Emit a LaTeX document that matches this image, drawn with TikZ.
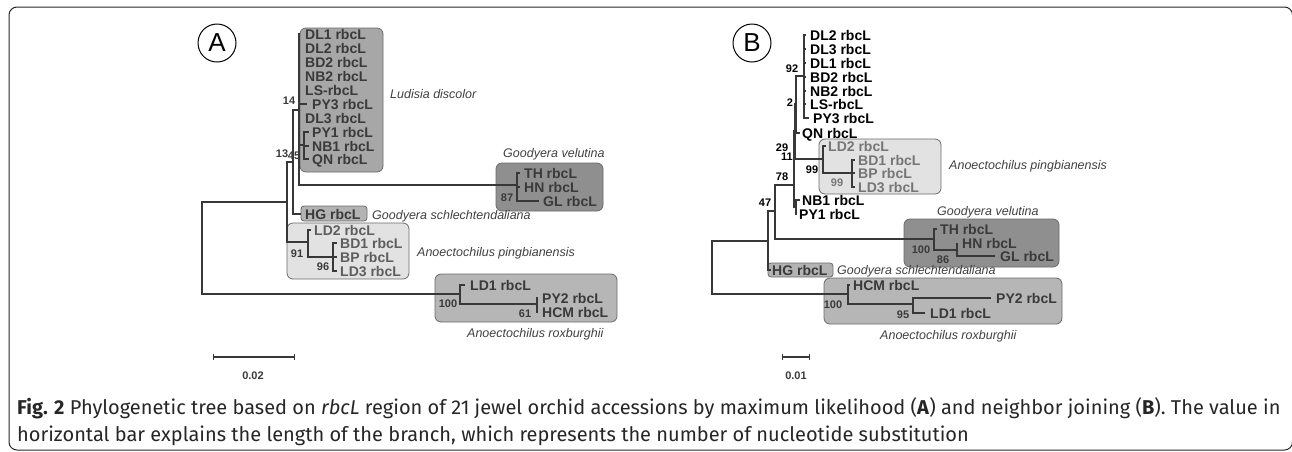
\documentclass[tikz,border=0pt]{standalone}
\usepackage{fontspec}
\setmainfont{Liberation Sans}
\newfontfamily\capfont{Fira Sans}
\usetikzlibrary{positioning, arrows.meta}
\definecolor{treeline}{HTML}{383838}
\definecolor{boxline}{HTML}{6A6A6A}
\definecolor{cladeDark}{HTML}{8F8F8F}
\definecolor{cladeMid}{HTML}{A7A7A7}
\definecolor{cladeHG}{HTML}{B3B3B3}
\definecolor{cladeRox}{HTML}{B6B6B6}
\definecolor{cladeLight}{HTML}{E2E2E2}
\definecolor{taxgray}{HTML}{3A3A3A}
\definecolor{lightgray}{HTML}{767676}
\definecolor{spgray}{HTML}{404040}
\tikzset{
  branch/.style={line width=1.1pt, draw=treeline},
  taxon/.style={anchor=west, inner sep=0pt, text height=10pt, text depth=0pt,
    font=\fontsize{14}{15}\selectfont\bfseries, text=taxgray},
  boot/.style={inner sep=0pt, font=\fontsize{11}{12}\selectfont\bfseries, text=taxgray},
  species/.style={anchor=west, inner sep=0pt, text height=9pt, text depth=0pt,
    font=\fontsize{12.5}{13}\selectfont\itshape, text=spgray},
  clade/.style={draw=boxline, line width=0.8pt, rounded corners=6pt},
  panel/.style={circle, draw, line width=1pt, minimum size=38pt, inner sep=0pt,
    font=\fontsize{26}{26}\selectfont},
  scalebar/.style={line width=1.1pt, draw=treeline, {Bar[width=6pt]}-{Bar[width=6pt]}},
}
\begin{document}
\begin{tikzpicture}[x=1pt, y=-1pt]
\useasboundingbox (0,0) rectangle (1292,451);
\draw[line width=1pt, draw=black!85, rounded corners=8pt] (9,7) rectangle (1292.5,450);

% panel A
\node[panel] at (217,43) (pa) {A};

\draw[clade, fill=cladeMid]   (300,28)  rectangle (383,172);
\draw[clade, fill=cladeDark]  (496,163) rectangle (603,211);
\draw[clade, fill=cladeHG, rounded corners=3pt] (301,206) rectangle (367,221);
\draw[clade, fill=cladeLight] (287,223) rectangle (409,279);
\draw[clade, fill=cladeRox]   (435,274) rectangle (617,322);

\node[taxon] at (305,34)  (dl1a) {DL1 rbcL};
\node[taxon] at (305,48)  (dl2a) {DL2 rbcL};
\node[taxon] at (305,62)  (bd2a) {BD2 rbcL};
\node[taxon] at (305,76)  (nb2a) {NB2 rbcL};
\node[taxon] at (305,90)  (lsa)  {LS-rbcL};
\node[taxon] at (312,104) (py3a) {PY3 rbcL};
\node[taxon] at (305,118) (dl3a) {DL3 rbcL};
\node[taxon] at (312,132) (py1a) {PY1 rbcL};
\node[taxon] at (312,146) (nb1a) {NB1 rbcL};
\node[taxon] at (312,159) (qna)  {QN rbcL};
\node[taxon] at (524,173) (tha)  {TH rbcL};
\node[taxon] at (524,187) (hna)  {HN rbcL};
\node[taxon] at (543,201) (gla)  {GL rbcL};
\node[taxon] at (305,214) (hga)  {HG rbcL};
\node[taxon, text=lightgray!80!black] at (314,230) (ld2a) {LD2 rbcL};
\node[taxon, text=lightgray!80!black] at (340,243) (bd1a) {BD1 rbcL};
\node[taxon, text=lightgray!80!black] at (340,257) (bpa)  {BP rbcL};
\node[taxon, text=lightgray!80!black] at (340,271) (ld3a) {LD3 rbcL};
\node[taxon] at (470,285) (ld1a) {LD1 rbcL};
\node[taxon] at (542,298) (py2a) {PY2 rbcL};
\node[taxon] at (542,312) (hcma) {HCM rbcL};

\coordinate (ra)  at (202,248);
\coordinate (a1)  at (287,202);
\coordinate (a2)  at (293,162);
\coordinate (a3)  at (299,110);
\coordinate (a4)  at (304,145);
\coordinate (ap1) at (308,242);
\coordinate (ap2) at (333,257);
\coordinate (av)  at (517,185);
\coordinate (ar1) at (460,294);
\coordinate (ar2) at (537,304);

\draw[branch] (ra) |- (a1);
\draw[branch] (ra) |- (ar1);
\draw[branch] (a1) |- (a2);
\draw[branch] (a1) |- (ap1);
\draw[branch] (a2) |- (a3);
\draw[branch] (a2) |- ([xshift=-4pt]hga.west);
\foreach \t in {dl1a,dl2a,bd2a,nb2a,lsa,py3a,dl3a}
  \draw[branch] (a3) |- ([xshift=-5pt]\t.west);
\draw[branch] (a3) |- (a4);
\draw[branch] (a3) |- (av);
\foreach \t in {py1a,nb1a,qna}
  \draw[branch] (a4) |- ([xshift=-3pt]\t.west);
\foreach \t in {tha,hna,gla}
  \draw[branch] (av) |- ([xshift=-4pt]\t.west);
\draw[branch] (ap1) |- ([xshift=-3pt]ld2a.west);
\draw[branch] (ap1) |- (ap2);
\foreach \t in {bd1a,bpa,ld3a}
  \draw[branch] (ap2) |- ([xshift=-3pt]\t.west);
\draw[branch] (ar1) |- ([xshift=-5pt]ld1a.west);
\draw[branch] (ar1) |- (ar2);
\foreach \t in {py2a,hcma}
  \draw[branch] (ar2) |- ([xshift=-4pt]\t.west);

\node[boot] at (289,101) (b14a) {14};
\node[boot] at (282,154) (b13a) {13};
\node[boot] at (294,156) (b45a) {45};
\node[boot] at (507,198) (b87a) {87};
\node[boot] at (297,254) (b91a) {91};
\node[boot] at (323,267) (b96a) {96};
\node[boot] at (448,304) (b100a) {100};
\node[boot] at (525,314) (b61a) {61};

\node[species] at (390,94)  (luda) {Ludisia discolor};
\node[species] at (503,153) (gvea) {Goodyera velutina};
\node[species] at (372,215) (gsca) {Goodyera schlechtendaliana};
\node[species] at (417,252) (apia) {Anoectochilus pingbianensis};
\node[species] at (467,333) (aroa) {Anoectochilus roxburghii};

\coordinate (sa1) at (213,357);
\coordinate (sa2) at (295,357);
\draw[scalebar] (sa1) -- (sa2);
\node[boot] at (253,376) (sla) {0.02};

% panel B
\node[panel] at (752,43) (pb) {B};

\draw[clade, fill=cladeLight] (819,139) rectangle (941,194);
\draw[clade, fill=cladeDark]  (904,219) rectangle (1059,267);
\draw[clade, fill=cladeRox]   (824,278) rectangle (1062,324);
\draw[clade, fill=cladeHG, rounded corners=3pt] (768,263) rectangle (833,277);

\node[taxon, text=black] at (810,35)  (dl2b) {DL2 rbcL};
\node[taxon, text=black] at (810,49)  (dl3b) {DL3 rbcL};
\node[taxon, text=black] at (810,63)  (dl1b) {DL1 rbcL};
\node[taxon, text=black] at (810,77)  (bd2b) {BD2 rbcL};
\node[taxon, text=black] at (810,91)  (nb2b) {NB2 rbcL};
\node[taxon, text=black] at (810,104) (lsb)  {LS-rbcL};
\node[taxon, text=black] at (813,118) (py3b) {PY3 rbcL};
\node[taxon, text=black] at (802,133) (qnb)  {QN rbcL};
\node[taxon, text=lightgray] at (828,146) (ld2b) {LD2 rbcL};
\node[taxon, text=lightgray] at (858,160) (bd1b) {BD1 rbcL};
\node[taxon, text=lightgray] at (858,173) (bpb)  {BP rbcL};
\node[taxon, text=lightgray] at (858,187) (ld3b) {LD3 rbcL};
\node[taxon, text=black] at (802,200) (nb1b) {NB1 rbcL};
\node[taxon, text=black] at (799,214) (py1b) {PY1 rbcL};
\node[taxon] at (940,229)  (thb)  {TH rbcL};
\node[taxon] at (962,243)  (hnb)  {HN rbcL};
\node[taxon] at (1000,256) (glb)  {GL rbcL};
\node[taxon] at (772,270)  (hgb)  {HG rbcL};
\node[taxon] at (853,285)  (hcmb) {HCM rbcL};
\node[taxon] at (996,298)  (py2b) {PY2 rbcL};
\node[taxon] at (930,313)  (ld1b) {LD1 rbcL};

\coordinate (rb)  at (712,267);
\coordinate (b1)  at (768,241);
\coordinate (b2)  at (775,211);
\coordinate (b78) at (794,185);
\coordinate (b29) at (795,131);
\coordinate (b2n) at (796,104);
\coordinate (b92) at (804,76);
\coordinate (b5)  at (796,207);
\coordinate (bp1) at (823,159);
\coordinate (bp2) at (852,173);
\coordinate (bv1) at (934,239);
\coordinate (bv2) at (957,250);
\coordinate (br1) at (848,294);
\coordinate (br2) at (913,304);

\draw[branch] (rb) |- (b1);
\draw[branch] (rb) |- (br1);
\draw[branch] (b1) |- (b2);
\draw[branch] (b1) |- ([xshift=-1pt]hgb.west);
\draw[branch] (b2) |- (b78);
\draw[branch] (b2) |- (bv1);
\draw[branch, line width=2.2pt] (b78) |- (b29);
\draw[branch, line width=2.2pt] (b78) |- (b5);
\draw[branch] (b29) |- (b2n);
\draw[branch] (b29) |- (bp1);
\draw[branch] (b2n) |- (b92);
\draw[branch] (b2n) |- ([xshift=-2pt]qnb.west);
\foreach \t in {dl2b,dl3b,dl1b,bd2b,nb2b,lsb,py3b}
  \draw[branch] (b92) |- ([xshift=-4pt]\t.west);
\foreach \t in {nb1b,py1b}
  \draw[branch] (b5) |- ([xshift=-2pt]\t.west);
\draw[branch] (bp1) |- ([xshift=-2pt]ld2b.west);
\draw[branch] (bp1) |- (bp2);
\foreach \t in {bd1b,bpb,ld3b}
  \draw[branch] (bp2) |- ([xshift=-3pt]\t.west);
\draw[branch] (bv1) |- ([xshift=-3pt]thb.west);
\draw[branch] (bv1) |- (bv2);
\foreach \t in {hnb,glb}
  \draw[branch] (bv2) |- ([xshift=-5pt]\t.west);
\draw[branch] (br1) |- ([xshift=-3pt]hcmb.west);
\draw[branch] (br1) |- (br2);
\foreach \t in {py2b,ld1b}
  \draw[branch] (br2) |- ([xshift=-5pt]\t.west);

\node[boot, text=black] at (792,69)  (b92b) {92};
\node[boot, text=black] at (790,103) (b2b)  {2};
\node[boot, text=black] at (782,148) (b29b) {29};
\node[boot, text=black] at (787,157) (b11b) {11};
\node[boot, text=black] at (812,170) (b99b) {99};
\node[boot, text=lightgray] at (837,183) (b99c) {99};
\node[boot, text=black] at (782,177) (b78b) {78};
\node[boot, text=black] at (765,203) (b47b) {47};
\node[boot] at (921,250) (b100b) {100};
\node[boot] at (943,260) (b86b)  {86};
\node[boot] at (833,305) (b100c) {100};
\node[boot] at (903,315) (b95b)  {95};

\node[species] at (949,165) (apib) {Anoectochilus pingbianensis};
\node[species] at (937,211) (gveb) {Goodyera velutina};
\node[species] at (837,270) (gscb) {Goodyera schlechtendaliana};
\node[species] at (880,335) (arob) {Anoectochilus roxburghii};

\coordinate (sb1) at (782,357);
\coordinate (sb2) at (810,357);
\draw[scalebar] (sb1) -- (sb2);
\node[boot] at (796,376) (slb) {0.01};

% caption
\node[anchor=base west, inner sep=0pt, font=\capfont\fontsize{20}{22}\selectfont, text=black!85] at (17,414) (cap1)
  {\textbf{Fig. 2} Phylogenetic tree based on \textit{rbcL} region of 21 jewel orchid accessions by maximum likelihood (\textbf{A}) and neighbor joining (\textbf{B}). The value in};
\node[anchor=base west, inner sep=0pt, font=\capfont\fontsize{20}{22}\selectfont, text=black!85] at (17,441) (cap2)
  {horizontal bar explains the length of the branch, which represents the number of nucleotide substitution};
\end{tikzpicture}
\end{document}
